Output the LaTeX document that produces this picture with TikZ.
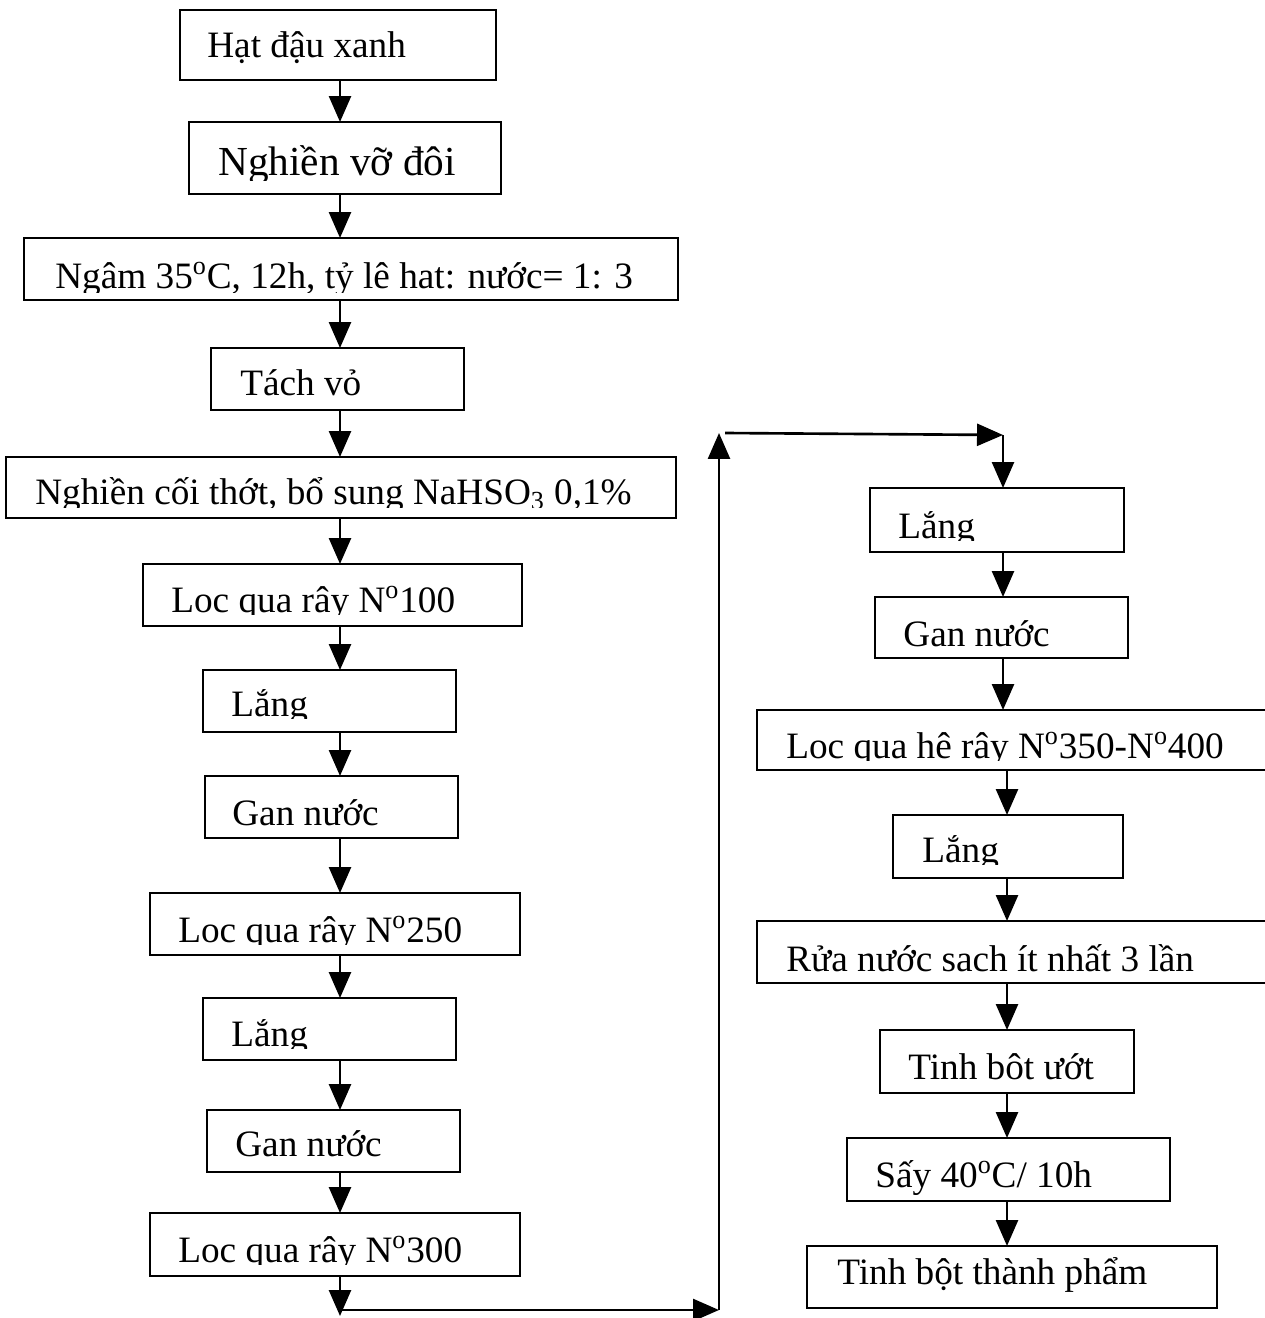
\documentclass[tikz,border=0pt]{standalone}
\usepackage{fontspec}
\setmainfont{Liberation Serif}
\usetikzlibrary{arrows.meta, calc}
\tikzset{box/.style={draw, line width=0.6pt, inner sep=0pt, outer sep=0pt, anchor=north west}}
\tikzset{lbl/.style={anchor=base west, inner sep=0pt, font=\fontsize{21.2}{25}\selectfont}}
\tikzset{biglbl/.style={lbl, font=\fontsize{23.5}{28}\selectfont}}
\tikzset{flow/.style={line width=1.5pt, -{Triangle[width=0.44cm,length=0.52cm]}}}

\begin{document}
\begin{tikzpicture}[x=0.02cm, y=-0.02cm]
\useasboundingbox (0,0) rectangle (1264,1318);
\coordinate (lcol) at (340,0);
\coordinate (rcol) at (1007,0);

% left column
\node[box, line width=1.6pt, minimum width=316*0.02cm, minimum height=70*0.02cm] (hat) at (180,10) {};
\node[lbl] (hatt) at (207,58) {Hạt đậu xanh};

\node[box, minimum width=312*0.02cm, minimum height=72*0.02cm] (vo) at (189,122) {};
\begin{scope}
  \clip (189,122) rectangle (501,180);
  \node[biglbl] (vot) at (218,175) {Nghiền vỡ đôi};
\end{scope}

\node[box, minimum width=654*0.02cm, minimum height=62*0.02cm] (ngam) at (24,238) {};
\begin{scope}
  \clip (24,238) rectangle (678,292);
  \node[lbl] (ngamt) at (55,288) {Ngâm 35\textsuperscript{o}C, 12h, tỷ lê hat: nước= 1: 3};
\end{scope}

\node[box, minimum width=253*0.02cm, minimum height=62*0.02cm] (tach) at (211,348) {};
\node[lbl] (tacht) at (240,395) {Tách vỏ};

\node[box, minimum width=670*0.02cm, minimum height=61*0.02cm] (nghien) at (6,457) {};
\begin{scope}
  \clip (6,457) rectangle (676,507);
  \node[lbl] (nghient) at (35,504) {Nghiền cối thớt, bổ sung NaHSO\textsubscript{3} 0,1\%};
\end{scope}

\node[box, minimum width=379*0.02cm, minimum height=62*0.02cm] (loca) at (143,564) {};
\begin{scope}
  \clip (143,564) rectangle (522,614);
  \node[lbl] (locat) at (171,612) {Loc qua rây N\textsuperscript{o}100};
\end{scope}

\node[box, minimum width=253*0.02cm, minimum height=62*0.02cm] (langa) at (203,670) {};
\begin{scope}
  \clip (203,670) rectangle (456,718);
  \node[lbl] (langat) at (231,716) {Lắng};
\end{scope}

\node[box, minimum width=253*0.02cm, minimum height=62*0.02cm] (gana) at (205,776) {};
\node[lbl] (ganat) at (232,825) {Gan nước};

\node[box, minimum width=370*0.02cm, minimum height=62*0.02cm] (locb) at (150,893) {};
\begin{scope}
  \clip (150,893) rectangle (520,944);
  \node[lbl] (locbt) at (178,942) {Loc qua rây N\textsuperscript{o}250};
\end{scope}

\node[box, minimum width=253*0.02cm, minimum height=62*0.02cm] (langb) at (203,998) {};
\begin{scope}
  \clip (203,998) rectangle (456,1048);
  \node[lbl] (langbt) at (231,1046) {Lắng};
\end{scope}

\node[box, minimum width=253*0.02cm, minimum height=62*0.02cm] (ganb) at (207,1110) {};
\node[lbl] (ganbt) at (235,1156) {Gan nước};

\node[box, minimum width=370*0.02cm, minimum height=63*0.02cm] (locc) at (150,1213) {};
\begin{scope}
  \clip (150,1213) rectangle (520,1264);
  \node[lbl] (locct) at (178,1262) {Loc qua rây N\textsuperscript{o}300};
\end{scope}

% right column
\node[box, minimum width=254*0.02cm, minimum height=64*0.02cm] (langc) at (870,488) {};
\begin{scope}
  \clip (870,488) rectangle (1124,540);
  \node[lbl] (langct) at (898,538) {Lắng};
\end{scope}

\node[box, minimum width=253*0.02cm, minimum height=61*0.02cm] (ganc) at (875,597) {};
\node[lbl] (ganct) at (903,646) {Gan nước};

\node[box, minimum width=533*0.02cm, minimum height=60*0.02cm] (locd) at (757,710) {};
\begin{scope}
  \clip (757,710) rectangle (1290,760);
  \node[lbl] (locdt) at (786,758) {Loc qua hê rây N\textsuperscript{o}350-N\textsuperscript{o}400};
\end{scope}

\node[box, minimum width=230*0.02cm, minimum height=63*0.02cm] (langd) at (893,815) {};
\begin{scope}
  \clip (893,815) rectangle (1123,864);
  \node[lbl] (langdt) at (922,862) {Lắng};
\end{scope}

\node[box, minimum width=533*0.02cm, minimum height=62*0.02cm] (rua) at (757,921) {};
\node[lbl] (ruat) at (786,971) {Rửa nước sach ít nhất 3 lần};

\node[box, minimum width=254*0.02cm, minimum height=63*0.02cm] (uot) at (880,1030) {};
\node[lbl] (uott) at (908,1079) {Tinh bôt ướt};

\node[box, minimum width=323*0.02cm, minimum height=63*0.02cm] (say) at (847,1138) {};
\node[lbl] (sayt) at (875,1187) {Sấy 40\textsuperscript{o}C/ 10h};

\node[box, minimum width=410*0.02cm, minimum height=62*0.02cm] (pham) at (807,1246) {};
\node[lbl] (phamt) at (837,1284) {Tinh bột thành phẩm};

% arrows, left column
\draw[flow] (hat.south -| lcol) -- (vo.north -| lcol);
\draw[flow] (vo.south -| lcol) -- (ngam.north -| lcol);
\draw[flow] (ngam.south -| lcol) -- (tach.north -| lcol);
\draw[flow] (tach.south -| lcol) -- (nghien.north -| lcol);
\draw[flow] (nghien.south -| lcol) -- (loca.north -| lcol);
\draw[flow] (loca.south -| lcol) -- (langa.north -| lcol);
\draw[flow] (langa.south -| lcol) -- (gana.north -| lcol);
\draw[flow] (gana.south -| lcol) -- (locb.north -| lcol);
\draw[flow] (locb.south -| lcol) -- (langb.north -| lcol);
\draw[flow] (langb.south -| lcol) -- (ganb.north -| lcol);
\draw[flow] (ganb.south -| lcol) -- (locc.north -| lcol);

% the way round to the right column
\coordinate (down) at (340,1316);
\coordinate (bend1) at (340,1310);
\coordinate (bend2) at (719,1310);
\coordinate (bend3) at (719,433);
\coordinate (bend4) at (1003,435);
\draw[flow] (locc.south -| lcol) -- (down);
\draw[flow] (bend1) -- (bend2);
\draw[flow] (bend2) -- (bend3);
\draw[flow] (bend3 -| 725,0) -- (bend4);
\draw[flow] (bend4) -- (langc.north -| bend4);

% arrows, right column
\draw[flow] (langc.south -| bend4) -- (ganc.north -| bend4);
\draw[flow] (ganc.south -| bend4) -- (locd.north -| bend4);
\draw[flow] (locd.south -| rcol) -- (langd.north -| rcol);
\draw[flow] (langd.south -| rcol) -- (rua.north -| rcol);
\draw[flow] (rua.south -| rcol) -- (uot.north -| rcol);
\draw[flow] (uot.south -| rcol) -- (say.north -| rcol);
\draw[flow] (say.south -| rcol) -- (pham.north -| rcol);
\end{tikzpicture}
\end{document}
